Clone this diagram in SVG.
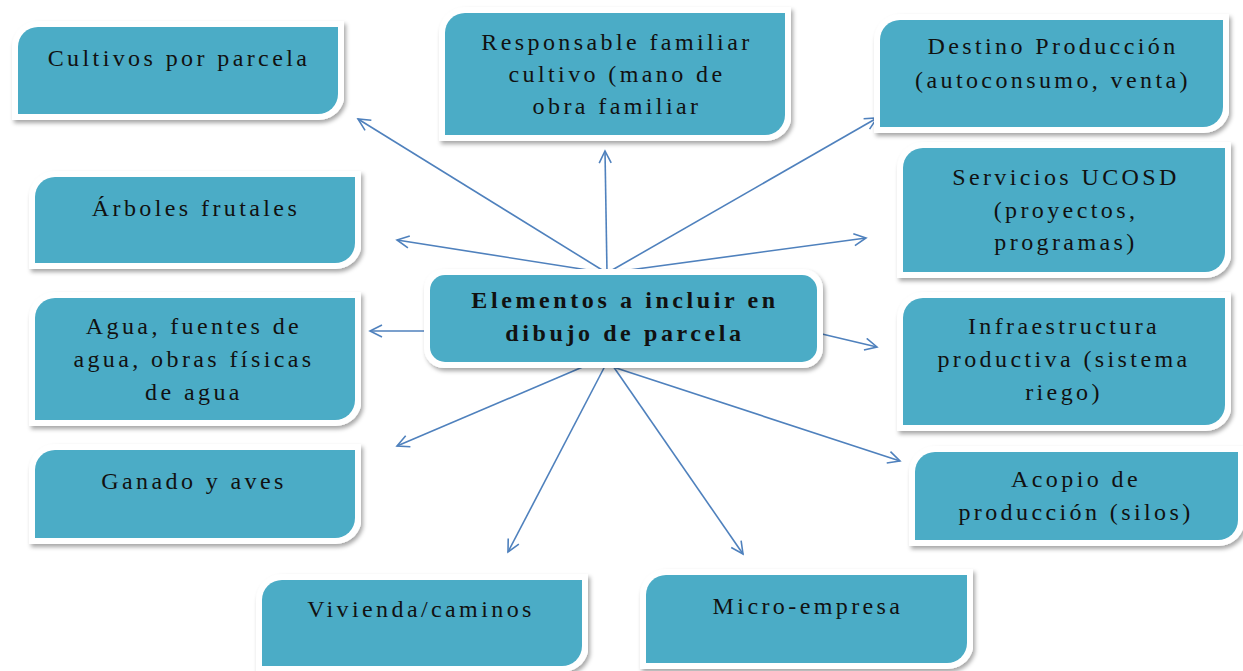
<svg xmlns="http://www.w3.org/2000/svg" width="1243" height="671" viewBox="0 0 1243 671">
<style>
.frame{fill:#ffffff;filter:url(#sh)}
.box{fill:#4bacc6}
.t{font-family:"Liberation Serif","Times New Roman",serif;font-size:24px;letter-spacing:3.4px;fill:#111;text-anchor:middle}
.tb{font-weight:bold;letter-spacing:3.6px}
.c{stroke:#4f81bd;stroke-width:1.6;fill:none;marker-end:url(#ah)}
</style>
<defs>
<filter id="sh" x="-10%" y="-10%" width="120%" height="130%">
<feDropShadow dx="2" dy="3" stdDeviation="2.2" flood-color="#000" flood-opacity="0.35"/>
</filter>
<marker id="ah" markerUnits="userSpaceOnUse" markerWidth="16" markerHeight="16" refX="13" refY="7" orient="auto">
<path d="M1,1 L13,7 L1,13" fill="none" stroke="#4f81bd" stroke-width="1.6"/>
</marker>
</defs>
<rect width="1243" height="671" fill="#ffffff"/>
<g id="connectors">
<line class="c" x1="607" y1="273" x2="358" y2="119"/>
<line class="c" x1="607" y1="273" x2="605" y2="151"/>
<line class="c" x1="607" y1="273" x2="877" y2="118"/>
<line class="c" x1="607" y1="273" x2="397" y2="240"/>
<line class="c" x1="607" y1="273" x2="866" y2="238"/>
<line class="c" x1="425" y1="331" x2="370" y2="331"/>
<line class="c" x1="822" y1="334" x2="877" y2="347"/>
<line class="c" x1="585" y1="366" x2="397" y2="446"/>
<line class="c" x1="605" y1="366" x2="508" y2="552"/>
<line class="c" x1="613" y1="366" x2="743" y2="554"/>
<line class="c" x1="610" y1="366" x2="900" y2="461"/>
</g>
<g id="center">
<rect class="frame" x="424" y="269" width="399" height="99" rx="20"/>
<rect class="box" x="430" y="275" width="387" height="87" rx="15"/>
<text class="t tb" x="625" y="308">Elementos a incluir en</text>
<text class="t tb" x="625" y="341">dibujo de parcela</text>
</g>
<g id="cultivos">
<path class="frame" d="M38,21 H344 V100 A26,26 0 0 1 318,120 H12 V47 A26,26 0 0 1 38,21 Z"/>
<path class="box" d="M38,27 H338 V94 A20,20 0 0 1 318,114 H18 V47 A20,20 0 0 1 38,27 Z"/>
<text class="t" x="179" y="66">Cultivos por parcela</text>
</g>
<g id="responsable">
<path class="frame" d="M465,7 H791 V121 A26,26 0 0 1 765,141 H439 V33 A26,26 0 0 1 465,7 Z"/>
<path class="box" d="M465,13 H785 V115 A20,20 0 0 1 765,135 H445 V33 A20,20 0 0 1 465,13 Z"/>
<text class="t" x="617" y="50">Responsable familiar</text>
<text class="t" x="617" y="82">cultivo (mano de</text>
<text class="t" x="617" y="114">obra familiar</text>
</g>
<g id="destino">
<path class="frame" d="M900,14 H1229 V113 A26,26 0 0 1 1203,133 H874 V40 A26,26 0 0 1 900,14 Z"/>
<path class="box" d="M900,20 H1223 V107 A20,20 0 0 1 1203,127 H880 V40 A20,20 0 0 1 900,20 Z"/>
<text class="t" x="1053" y="54">Destino Producción</text>
<text class="t" x="1053" y="88">(autoconsumo, venta)</text>
</g>
<g id="arboles">
<path class="frame" d="M55,171 H361 V249 A26,26 0 0 1 335,269 H29 V197 A26,26 0 0 1 55,171 Z"/>
<path class="box" d="M55,177 H355 V243 A20,20 0 0 1 335,263 H35 V197 A20,20 0 0 1 55,177 Z"/>
<text class="t" x="196" y="216">Árboles frutales</text>
</g>
<g id="servicios">
<path class="frame" d="M923,142 H1231 V258 A26,26 0 0 1 1205,278 H897 V168 A26,26 0 0 1 923,142 Z"/>
<path class="box" d="M923,148 H1225 V252 A20,20 0 0 1 1205,272 H903 V168 A20,20 0 0 1 923,148 Z"/>
<text class="t" x="1066" y="185">Servicios UCOSD</text>
<text class="t" x="1066" y="218">(proyectos,</text>
<text class="t" x="1066" y="250">programas)</text>
</g>
<g id="agua">
<path class="frame" d="M55,292 H361 V406 A26,26 0 0 1 335,426 H29 V318 A26,26 0 0 1 55,292 Z"/>
<path class="box" d="M55,298 H355 V400 A20,20 0 0 1 335,420 H35 V318 A20,20 0 0 1 55,298 Z"/>
<text class="t" x="194" y="334">Agua, fuentes de</text>
<text class="t" x="194" y="367">agua, obras físicas</text>
<text class="t" x="194" y="400">de agua</text>
</g>
<g id="infraestructura">
<path class="frame" d="M923,292 H1231 V411 A26,26 0 0 1 1205,431 H897 V318 A26,26 0 0 1 923,292 Z"/>
<path class="box" d="M923,298 H1225 V405 A20,20 0 0 1 1205,425 H903 V318 A20,20 0 0 1 923,298 Z"/>
<text class="t" x="1064" y="334">Infraestructura</text>
<text class="t" x="1064" y="367">productiva (sistema</text>
<text class="t" x="1064" y="400">riego)</text>
</g>
<g id="ganado">
<path class="frame" d="M55,444 H361 V524 A26,26 0 0 1 335,544 H29 V470 A26,26 0 0 1 55,444 Z"/>
<path class="box" d="M55,450 H355 V518 A20,20 0 0 1 335,538 H35 V470 A20,20 0 0 1 55,450 Z"/>
<text class="t" x="194" y="489">Ganado y aves</text>
</g>
<g id="acopio">
<path class="frame" d="M935,446 H1244 V526 A26,26 0 0 1 1218,546 H909 V472 A26,26 0 0 1 935,446 Z"/>
<path class="box" d="M935,452 H1238 V520 A20,20 0 0 1 1218,540 H915 V472 A20,20 0 0 1 935,452 Z"/>
<text class="t" x="1076" y="487">Acopio de</text>
<text class="t" x="1076" y="520">producción (silos)</text>
</g>
<g id="vivienda">
<path class="frame" d="M282,574 H588 V652 A26,26 0 0 1 562,672 H256 V600 A26,26 0 0 1 282,574 Z"/>
<path class="box" d="M282,580 H582 V646 A20,20 0 0 1 562,666 H262 V600 A20,20 0 0 1 282,580 Z"/>
<text class="t" x="421" y="617">Vivienda/caminos</text>
</g>
<g id="micro">
<path class="frame" d="M666,569 H973 V649 A26,26 0 0 1 947,669 H640 V595 A26,26 0 0 1 666,569 Z"/>
<path class="box" d="M666,575 H967 V643 A20,20 0 0 1 947,663 H646 V595 A20,20 0 0 1 666,575 Z"/>
<text class="t" x="808" y="614">Micro-empresa</text>
</g>
</svg>
